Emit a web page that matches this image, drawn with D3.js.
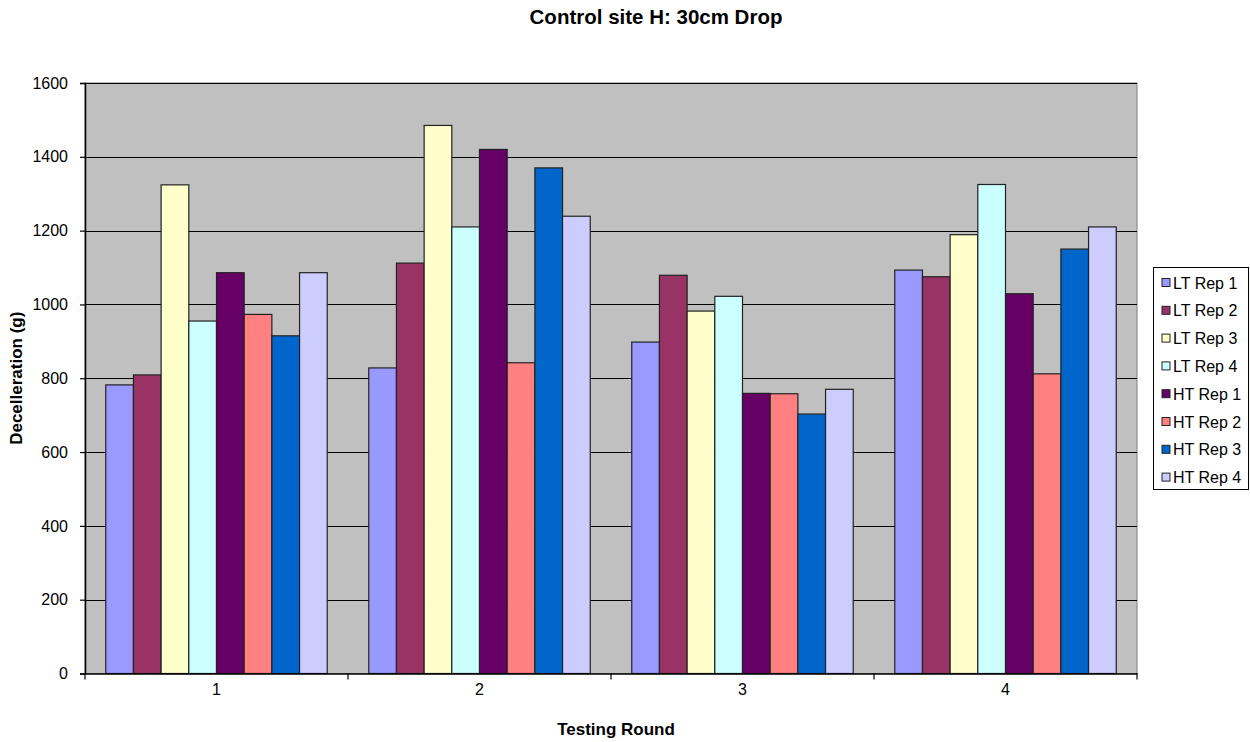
<!DOCTYPE html>
<html>
<head>
<meta charset="utf-8">
<script src="https://cdn.jsdelivr.net/npm/d3@7"></script>
<style>
  html, body { margin: 0; padding: 0; background: #fff; }
  svg { display: block; font-family: "Liberation Sans", Arial, sans-serif; }
</style>
</head>
<body>
<svg id="chart" width="1250" height="742"></svg>
<script>
// Testing rounds along the x axis
const rounds = ["1", "2", "3", "4"];

// Replicate series names, in legend order
const seriesNames = ["LT Rep 1", "LT Rep 2", "LT Rep 3", "LT Rep 4",
                     "HT Rep 1", "HT Rep 2", "HT Rep 3", "HT Rep 4"];

// Deceleration (g) per series, one value per testing round
const ltRep1 = [782, 828, 898, 1093];
const ltRep2 = [809, 1112, 1079, 1075];
const ltRep3 = [1324, 1485, 982, 1189];
const ltRep4 = [955, 1210, 1022, 1325];
const htRep1 = [1086, 1420, 759, 1029];
const htRep2 = [973, 842, 758, 812];
const htRep3 = [915, 1370, 703, 1150];
const htRep4 = [1086, 1239, 770, 1210];

const seriesValues = [ltRep1, ltRep2, ltRep3, ltRep4, htRep1, htRep2, htRep3, htRep4];

// Y axis ticks
const yTicks = [0, 200, 400, 600, 800, 1000, 1200, 1400, 1600];

const colors = ["#9999FF", "#993366", "#FFFFCC", "#CCFFFF",
                "#660066", "#FF8080", "#0066CC", "#CCCCFF"];

const svg = d3.select("#chart");
const plot = { left: 85, right: 1137, top: 83, bottom: 673.5 };

const x0 = d3.scaleBand()
  .domain(rounds)
  .range([plot.left, plot.right])
  .paddingInner(0)
  .paddingOuter(0);

// 8 bars per group with a gap of 1.5 bar widths split across both sides
const x1 = d3.scaleBand()
  .domain(seriesNames)
  .range([0, x0.bandwidth()])
  .paddingInner(0)
  .paddingOuter(0.75);

const y = d3.scaleLinear()
  .domain([0, 1600])
  .range([plot.bottom, plot.top]);

// Plot background
svg.append("rect")
  .attr("x", plot.left).attr("y", plot.top)
  .attr("width", plot.right - plot.left)
  .attr("height", plot.bottom - plot.top)
  .attr("fill", "#C0C0C0")
  .attr("stroke", "#808080")
  .attr("stroke-width", 1);

// Horizontal gridlines
svg.append("g")
  .selectAll("line")
  .data(yTicks.filter(d => d > 0))
  .join("line")
  .attr("x1", plot.left).attr("x2", plot.right)
  .attr("y1", d => Math.round(y(d)) + 0.5)
  .attr("y2", d => Math.round(y(d)) + 0.5)
  .attr("stroke", "#000")
  .attr("stroke-width", 1);

// Bars
const rows = seriesNames.map((name, i) => ({ name, values: seriesValues[i], color: colors[i] }));

svg.append("g")
  .selectAll("g")
  .data(rows)
  .join("g")
  .attr("fill", d => d.color)
  .selectAll("rect")
  .data(d => d.values.map((v, j) => ({ name: d.name, round: rounds[j], value: v })))
  .join("rect")
  .attr("x", d => x0(d.round) + x1(d.name))
  .attr("y", d => y(d.value))
  .attr("width", x1.bandwidth())
  .attr("height", d => y(0) - y(d.value))
  .attr("stroke", "#222")
  .attr("stroke-width", 1.2);

// Y axis
const yAxis = d3.axisLeft(y)
  .tickValues(yTicks)
  .tickSize(5)
  .tickPadding(12)
  .tickFormat(d3.format("d"));

const gy = svg.append("g")
  .attr("transform", `translate(${plot.left},0)`)
  .call(yAxis);
gy.select(".domain").attr("stroke", "#000").attr("stroke-width", 1.5);
gy.selectAll(".tick line").attr("stroke", "#000").attr("stroke-width", 1.2);
gy.selectAll(".tick text")
  .attr("fill", "#000")
  .style("font-size", "16px")
  .style("font-family", "'Liberation Sans', Arial, sans-serif");

// X axis: category labels centred, tick marks at group boundaries
const xAxis = d3.axisBottom(x0).tickSize(0).tickPadding(10);
const gx = svg.append("g")
  .attr("transform", `translate(0,${plot.bottom})`)
  .call(xAxis);
gx.select(".domain").attr("stroke", "#000").attr("stroke-width", 1.5);
gx.selectAll(".tick text")
  .attr("fill", "#000")
  .style("font-size", "16px")
  .style("font-family", "'Liberation Sans', Arial, sans-serif");

const boundaries = rounds.map(r => x0(r)).concat([x0(rounds[rounds.length - 1]) + x0.bandwidth()]);
gx.selectAll(".bound")
  .data(boundaries)
  .join("line")
  .attr("class", "bound")
  .attr("x1", d => d).attr("x2", d => d)
  .attr("y1", 0).attr("y2", 6)
  .attr("stroke", "#000")
  .attr("stroke-width", 1.2);

// Title and axis titles
svg.append("text")
  .attr("x", 656).attr("y", 24)
  .attr("text-anchor", "middle")
  .style("font-size", "20.5px").style("font-weight", "bold")
  .text("Control site H: 30cm Drop");

svg.append("text")
  .attr("x", 616).attr("y", 735)
  .attr("text-anchor", "middle")
  .style("font-size", "17px").style("font-weight", "bold")
  .text("Testing Round");

svg.append("text")
  .attr("transform", `translate(22,${(plot.top + plot.bottom) / 2}) rotate(-90)`)
  .attr("text-anchor", "middle")
  .style("font-size", "17px").style("font-weight", "bold")
  .text("Decelleration (g)");

// Legend
const legend = svg.append("g").attr("transform", "translate(1153,267)");
legend.append("rect")
  .attr("x", 0.5).attr("y", 0.5)
  .attr("width", 95).attr("height", 222)
  .attr("fill", "#fff")
  .attr("stroke", "#000")
  .attr("stroke-width", 1);

const item = legend.selectAll("g.item")
  .data(rows)
  .join("g")
  .attr("class", "item")
  .attr("transform", (d, i) => `translate(0,${15.5 + i * 27.8})`);

item.append("rect")
  .attr("x", 9).attr("y", -4)
  .attr("width", 8).attr("height", 8)
  .attr("fill", d => d.color)
  .attr("stroke", "#222")
  .attr("stroke-width", 1);

item.append("text")
  .attr("x", 20).attr("y", 6)
  .style("font-size", "16px")
  .text(d => d.name);
</script>
</body>
</html>
